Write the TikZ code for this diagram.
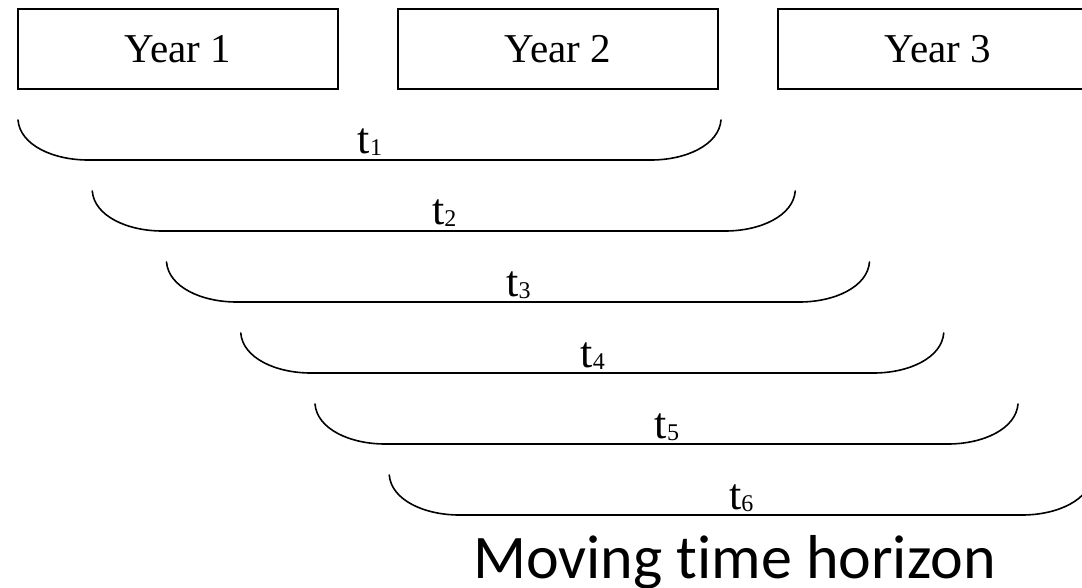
\documentclass[tikz,border=0pt]{standalone}
\usepackage{fontspec}
\setmainfont{Liberation Serif}
\newfontfamily\calibfont[Ligatures=NoCommon]{Carlito}
\tikzset{
  yearbox/.style={draw, line width=1.6pt, minimum width=320pt, minimum height=80pt,
    inner sep=0pt, text height=27pt, text depth=0pt, font=\fontsize{41}{42}\selectfont},
  brk/.style={line width=1.6pt, line cap=round},
  tlab/.style={anchor=base, inner sep=0pt, font=\fontsize{44}{44}\selectfont},
  caption/.style={anchor=base, inner sep=0pt, font=\calibfont\fontsize{62}{62}\selectfont}
}
\begin{document}
\begin{tikzpicture}[x=1pt,y=-1pt]
\useasboundingbox (0,0) rectangle (1082,588);
\node[yearbox] (y1) at (178,49) {Year 1};
\node[yearbox] (y2) at (558,49) {Year 2};
\node[yearbox] (y3) at (938,49) {Year 3};
\foreach \i in {1,...,6} {
  \pgfmathsetmacro\bx{18+74.25*(\i-1)}
  \pgfmathsetmacro\by{120+71*(\i-1)}
  \draw[brk] (\bx,\by) .. controls (\bx+2,\by+25) and (\bx+35,\by+40) .. (\bx+70,\by+40)
     -- (\bx+633,\by+40) .. controls (\bx+668,\by+40) and (\bx+701,\by+25) .. (\bx+703,\by);
  \node[tlab] (t\i) at (\bx+352,\by+34) {t{\fontsize{24}{24}\selectfont\raisebox{-2pt}{\i}}};
}
\node[caption] (mth) at (734.5,578) {Moving time horizon};
\end{tikzpicture}
\end{document}
